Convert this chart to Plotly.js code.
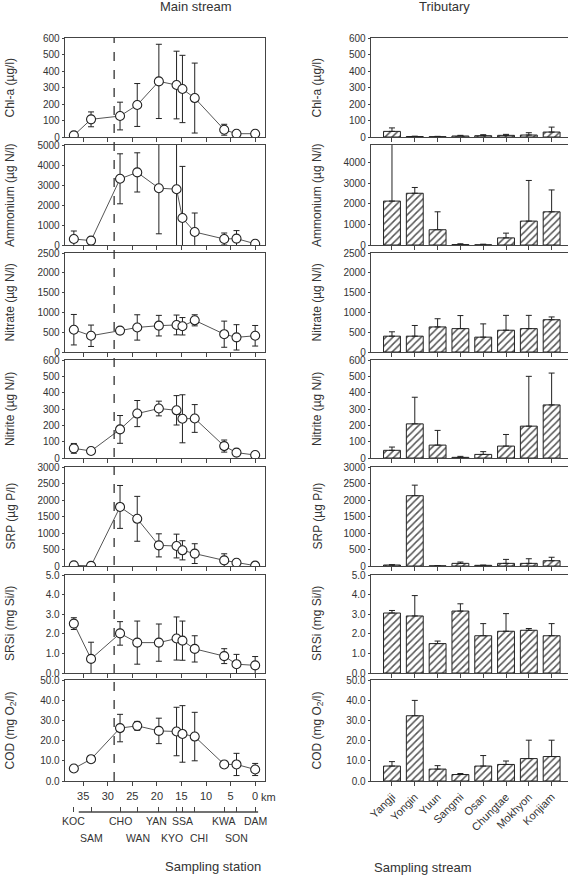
<!DOCTYPE html>
<html><head><meta charset="utf-8">
<script src="https://cdn.plot.ly/plotly-3.0.1.min.js"></script>
<style>html,body{margin:0;padding:0;overflow:hidden;background:#fff}#c{width:590px;height:881px}</style>
</head><body><div id="c"></div>
<script>
const W = 590, H = 881;
// Main stream stations
const stations = ['KOC','SAM','CHO','WAN','YAN','SSA','KYO','CHI','KWA','SON','DAM'];
const stationKm = [36.9,33.4,27.5,24.0,19.6,16.0,14.8,12.3,6.3,3.8,0];
const kmTicks = [35,30,25,20,15,10,5,0];
const dividerKm = 28.7;
const chlMain = [10,107,127,194,337,315,291,236,44,20,20];
const chlMainErr = [8,45,84,130,225,205,204,212,33,15,15];
const nh4Main = [300,220,3310,3630,2840,2790,1350,650,300,320,60];
const nh4MainErr = [400,150,1250,980,2280,3300,2580,950,300,400,60];
const no3Main = [563,410,540,620,665,683,650,800,450,370,410];
const no3MainErr = [385,270,70,320,260,250,220,140,330,320,260];
const no2Main = [59,43,175,272,303,292,240,242,73,33,18];
const no2MainErr = [30,8,85,80,45,90,147,85,37,10,8];
const srpMain = [20,5,1790,1430,625,605,475,375,170,100,10];
const srpMainErr = [15,10,650,680,350,360,290,300,200,60,15];
const srsiMain = [2.52,0.72,2.02,1.55,1.55,1.76,1.65,1.23,0.86,0.45,0.39];
const srsiMainErr = [0.3,0.85,0.6,1.1,0.95,1.1,1.0,0.67,0.38,0.5,0.45];
const codMain = [6.2,10.8,26.2,27.3,24.8,24.5,23.3,22.0,8.2,8.2,5.7];
const codMainErr = [0.8,1.0,6.8,2.2,6.3,12,14,12,1,5.5,3];
// Tributaries
const streams = ['Yangji','Yongin','Yuun','Sangmi','Osan','Chungtae','Mokhyon','Konjiam'];
const chlTrib = [34,3,2,6,8,10,12,30];
const chlTribErr = [21,2,2,4,6,6,14,30];
const nh4Trib = [2130,2510,740,20,10,345,1160,1610];
const nh4TribErr = [3000,280,870,40,30,230,1970,1060];
const no3Trib = [400,400,633,590,375,550,590,815];
const no3TribErr = [110,270,207,330,335,375,335,70];
const no2Trib = [47,209,79,4,22,73,195,325];
const no2TribErr = [20,163,90,6,17,71,305,195];
const srpTrib = [30,2130,5,80,20,80,80,160];
const srpTribErr = [8,320,0,40,5,120,140,105];
const srsiTrib = [3.06,2.91,1.50,3.16,1.90,2.13,2.18,1.90];
const srsiTribErr = [0.13,1.04,0.13,0.37,0.62,0.90,0.09,0.62];
const codTrib = [7.4,32.3,5.9,3.2,7.4,8.2,11.1,12.1];
const codTribErr = [2.2,7.6,1.7,0.5,5.2,1.7,9.1,8.1];

const yTitles = ['Chl-a (µg/l)','Ammonium (µg N/l)','Nitrate (µg N/l)','Nitrite (µg N/l)','SRP (µg P/l)','SRSi (mg Si/l)','COD (mg O<sub>2</sub>/l)'];
const mainData = [[chlMain,chlMainErr],[nh4Main,nh4MainErr],[no3Main,no3MainErr],[no2Main,no2MainErr],[srpMain,srpMainErr],[srsiMain,srsiMainErr],[codMain,codMainErr]];
const tribData = [[chlTrib,chlTribErr],[nh4Trib,nh4TribErr],[no3Trib,no3TribErr],[no2Trib,no2TribErr],[srpTrib,srpTribErr],[srsiTrib,srsiTribErr],[codTrib,codTribErr]];
const mainRanges = [[0,600],[0,5000],[0,2500],[0,600],[0,3000],[0,5],[0,50]];
const tribRanges = [[0,600],[0,4850],[0,2500],[0,600],[0,3000],[0,5],[0,50]];
const dticks = [100,1000,500,100,500,1,10];
const fmts = ['','','','','','.1f','.1f'];

// layout geometry in pixels
const rowsPx = [[38,137],[145,245],[253,352],[360,458],[467,566],[575,673],[680,781]];
const leftPx = [65,265], rightPx = [371,579];
const labelRow = [0,1,0,1,0,0,1,1,0,1,0];       // which text row each station label sits in
const labelShiftPx = [0,0,0,1,-2,6,-10,4,0,0,0]; // small horizontal nudges of station labels
const fx = p => p / W, fy = p => (H - p) / H;

const FONT = 'Liberation Sans, Arial, sans-serif';
const LC = '#444';
const traces = [], layout = {
  width: W, height: H, margin: {l:0,r:0,t:0,b:0}, showlegend: false,
  paper_bgcolor: '#fff', plot_bgcolor: '#fff',
  font: {family: FONT, size: 10, color: '#333'},
  annotations: [], shapes: []
};

for (let i = 0; i < 7; i++) {
  const li = i + 1, ri = i + 8;
  const dom = [fy(rowsPx[i][1]), fy(rowsPx[i][0])];
  const last = i === 6;
  // main stream
  traces.push({
    type: 'scatter', mode: 'lines+markers', x: stationKm, y: mainData[i][0],
    xaxis: 'x' + li, yaxis: 'y' + li, cliponaxis: true,
    line: {color: '#555', width: 1},
    marker: {symbol: 'circle', size: 9, color: '#fff', line: {color: '#222', width: 1.1}},
    error_y: {type: 'data', array: mainData[i][1], color: '#222', thickness: 1, width: 3}
  });
  layout['xaxis' + li] = {
    domain: [fx(leftPx[0]), fx(leftPx[1])], range: [38.7, -2.0], anchor: 'y' + li,
    showline: true, mirror: true, linecolor: LC, linewidth: 1.3,
    ticks: 'outside', ticklen: 4, tickcolor: LC, tickvals: kmTicks,
    showticklabels: last, showgrid: false, zeroline: false,
    tickfont: {size: 11, color: '#333', family: FONT}
  };
  layout['yaxis' + li] = {
    domain: dom, range: mainRanges[i], anchor: 'x' + li,
    showline: true, mirror: true, linecolor: LC, linewidth: 1.3,
    ticks: 'outside', ticklen: 2, tickcolor: LC, dtick: dticks[i], tick0: 0,
    tickformat: fmts[i], showgrid: false, zeroline: false,
    tickfont: {size: 10, color: '#333', family: FONT}
  };
  // tributary
  traces.push({
    type: 'bar', x: streams, y: tribData[i][0], width: 0.74,
    xaxis: 'x' + ri, yaxis: 'y' + ri,
    marker: {color: '#fff', line: {color: '#222', width: 1},
      pattern: {shape: '/', fgcolor: '#555', bgcolor: '#fff', size: 5, solidity: 0.3}},
    error_y: {type: 'data', symmetric: false, array: tribData[i][1], arrayminus: tribData[i][1].map(() => 0),
      color: '#222', thickness: 1, width: 3}
  });
  layout['xaxis' + ri] = {
    domain: [fx(rightPx[0]), fx(rightPx[1])], range: [-0.92, 8.2], anchor: 'y' + ri,
    type: 'category', showline: true, mirror: true, linecolor: LC, linewidth: 1.3,
    ticks: 'outside', ticklen: 4, tickcolor: LC,
    showticklabels: last, tickangle: -45, showgrid: false, zeroline: false,
    tickfont: {size: 11, color: '#333', family: FONT}
  };
  layout['yaxis' + ri] = {
    domain: dom, range: tribRanges[i], anchor: 'x' + ri,
    showline: true, mirror: true, linecolor: LC, linewidth: 1.3,
    ticks: 'outside', ticklen: 2, tickcolor: LC, dtick: dticks[i], tick0: 0,
    tickformat: fmts[i], showgrid: false, zeroline: false,
    tickfont: {size: 10, color: '#333', family: FONT}
  };
  const yc = (dom[0] + dom[1]) / 2;
  layout.annotations.push({xref: 'paper', yref: 'paper', x: fx(10), y: yc, text: yTitles[i], textangle: -90,
    showarrow: false, xanchor: 'center', yanchor: 'middle', font: {size: 12, color: '#333', family: FONT}});
  layout.annotations.push({xref: 'paper', yref: 'paper', x: fx(317), y: yc, text: yTitles[i], textangle: -90,
    showarrow: false, xanchor: 'center', yanchor: 'middle', font: {size: 12, color: '#333', family: FONT}});
}

// station axis
traces.push({type: 'scatter', mode: 'markers', x: [stationKm[0]], y: [null], xaxis: 'x15', yaxis: 'y7', hoverinfo: 'skip'});
layout.xaxis15 = {
  overlaying: 'x7', anchor: 'free', position: fy(812), side: 'bottom',
  domain: [fx(leftPx[0]), fx(leftPx[1])], range: [38.7, -2.0],
  showline: false, ticks: 'inside', ticklen: 5, tickcolor: LC, tickvals: stationKm,
  showticklabels: false, showgrid: false, zeroline: false
};
layout.shapes.push({type: 'line', xref: 'x7', yref: 'paper', x0: stationKm[0] - 1, x1: stationKm[stationKm.length - 1] - 0.6,
  y0: fy(812), y1: fy(812), line: {color: LC, width: 1.3}});
stations.forEach((s, k) => {
  layout.annotations.push({xref: 'x7', yref: 'paper', x: stationKm[k], y: fy(labelRow[k] === 0 ? 821 : 838),
    xshift: labelShiftPx[k], text: s, showarrow: false, xanchor: 'center', yanchor: 'middle',
    font: {size: 10.5, color: '#333', family: FONT}});
});
layout.annotations.push({xref: 'x7', yref: 'paper', x: 0, y: fy(797), text: 'km', xanchor: 'left', xshift: 4,
  showarrow: false, yanchor: 'middle', font: {size: 11, color: '#333', family: FONT}});

// divider dashed line
layout.shapes.push({type: 'line', xref: 'x', yref: 'paper', x0: dividerKm, x1: dividerKm,
  y0: fy(781), y1: fy(38), line: {color: '#333', width: 1.3, dash: 'dash'}});

// titles
const tfont = {size: 13, color: '#333', family: FONT};
layout.annotations.push({xref: 'paper', yref: 'paper', x: fx(158), y: fy(7), text: 'Main stream', showarrow: false, font: tfont, yanchor: 'middle'});
layout.annotations.push({xref: 'paper', yref: 'paper', x: fx(472), y: fy(7), text: 'Tributary', showarrow: false, font: tfont, yanchor: 'middle'});
layout.annotations.push({xref: 'paper', yref: 'paper', x: fx(163), y: fy(866), text: 'Sampling station', showarrow: false, font: tfont, yanchor: 'middle'});
layout.annotations.push({xref: 'paper', yref: 'paper', x: fx(474), y: fy(867), text: 'Sampling stream', showarrow: false, font: tfont, yanchor: 'middle'});

Plotly.newPlot('c', traces, layout, {staticPlot: true, displayModeBar: false});
</script>
</body></html>
